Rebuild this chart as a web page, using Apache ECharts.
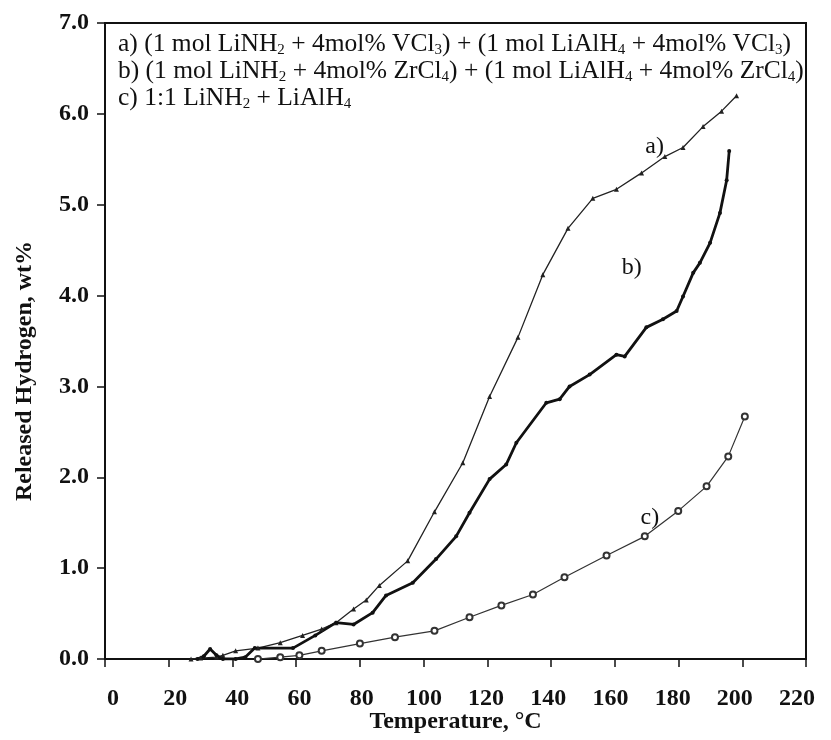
<!DOCTYPE html>
<html>
<head>
<meta charset="utf-8">
<script src="https://cdn.jsdelivr.net/npm/echarts@6/dist/echarts.min.js"></script>
<style>
html,body{margin:0;padding:0;background:#fff;}
#chart{width:831px;height:740px;}
</style>
</head>
<body>
<div id="chart"></div>
<script>
// ---- data ----
const xTicks = [0, 20, 40, 60, 80, 100, 120, 140, 160, 180, 200, 220];
const yTickLabels = ['0.0', '1.0', '2.0', '3.0', '4.0', '5.0', '6.0', '7.0'];

// a) LiNH2 + LiAlH4 with 4mol% VCl3
const aTemp = [27, 30, 35, 37, 41, 48, 55, 62, 68, 72.5, 78, 82, 86.1, 95.0, 103.4, 112.3, 120.7, 129.6, 137.4, 145.3, 153.1, 160.5, 168.4, 175.7, 181.4, 187.7, 193.5, 198.2];
const aH2   = [0, 0.01, 0.02, 0.04, 0.09, 0.12, 0.18, 0.26, 0.33, 0.40, 0.55, 0.65, 0.81, 1.08, 1.62, 2.16, 2.89, 3.54, 4.23, 4.74, 5.07, 5.17, 5.35, 5.53, 5.63, 5.86, 6.03, 6.20];

// b) LiNH2 + LiAlH4 with 4mol% ZrCl4
const bTemp = [29, 31, 33, 35, 37, 41, 44, 47, 59, 66, 72.5, 78, 84, 88.2, 96.6, 103.9, 110.2, 114.4, 120.7, 125.9, 129.1, 138.5, 142.7, 145.8, 152.1, 160.5, 163.1, 169.9, 175.1, 179.4, 181.4, 184.6, 186.7, 189.9, 193.0, 195.1, 195.9];
const bH2   = [0, 0.03, 0.11, 0.04, 0, 0, 0.02, 0.12, 0.12, 0.26, 0.40, 0.38, 0.51, 0.70, 0.84, 1.10, 1.35, 1.61, 1.98, 2.14, 2.38, 2.82, 2.86, 3.00, 3.13, 3.35, 3.33, 3.65, 3.74, 3.83, 3.99, 4.25, 4.36, 4.58, 4.91, 5.27, 5.59];

// c) 1:1 LiNH2 + LiAlH4
const cTemp = [48, 55, 61, 68, 80, 91, 103.4, 114.4, 124.4, 134.3, 144.2, 157.4, 169.4, 179.9, 188.8, 195.6, 200.8];
const cH2   = [0, 0.02, 0.04, 0.09, 0.17, 0.24, 0.31, 0.46, 0.59, 0.71, 0.90, 1.14, 1.35, 1.63, 1.90, 2.23, 2.67];

const curveLabels = [
  {text: 'a)', t: 172.5, h: 5.64},
  {text: 'b)', t: 165.3, h: 4.31},
  {text: 'c)', t: 171.0, h: 1.56}
];

// ---- chart ----
const serif = '"Liberation Serif", "Times New Roman", serif';
const zip = (xs, ys) => xs.map((x, i) => [x, ys[i]]);

const chart = echarts.init(document.getElementById('chart'), null, {renderer: 'canvas'});

const sub = {fontFamily: serif, fontSize: 15, fill: '#111', lineHeight: 7, verticalAlign: 'bottom'};

const legendText =
  'a) (1 mol LiNH{s|2} + 4mol% VCl{s|3}) + (1 mol LiAlH{s|4} + 4mol% VCl{s|3})\n' +
  'b) (1 mol LiNH{s|2} + 4mol% ZrCl{s|4}) + (1 mol LiAlH{s|4} + 4mol% ZrCl{s|4})\n' +
  'c) 1:1 LiNH{s|2} + LiAlH{s|4}';

const tickFont = {fontFamily: serif, fontWeight: 'bold', fontSize: 24, color: '#111'};

const option = {
  backgroundColor: '#fff',
  animation: false,
  grid: [
    {left: 105, right: 25, top: 23, bottom: 81, show: true, borderColor: '#111', borderWidth: 2, backgroundColor: 'transparent'},
    {left: 113, right: 34, top: 23, bottom: 81, show: false}
  ],
  xAxis: [
    {
      type: 'value', gridIndex: 0,
      min: xTicks[0], max: xTicks[xTicks.length - 1], interval: xTicks[1] - xTicks[0],
      axisLine: {show: true, lineStyle: {color: '#111', width: 2}},
      axisTick: {show: true, inside: false, length: 8, lineStyle: {color: '#111', width: 1.5}},
      axisLabel: {show: false},
      splitLine: {show: false},
      name: 'Temperature, °C',
      nameLocation: 'middle',
      nameGap: 51,
      nameTextStyle: Object.assign({}, tickFont, {fontSize: 24})
    },
    {
      type: 'value', gridIndex: 1,
      min: xTicks[0], max: xTicks[xTicks.length - 1], interval: xTicks[1] - xTicks[0],
      axisLine: {show: false}, axisTick: {show: false}, splitLine: {show: false},
      axisLabel: Object.assign({show: true, margin: 28, formatter: v => String(v)}, tickFont)
    }
  ],
  yAxis: [
    {
      type: 'value', gridIndex: 0,
      min: 0, max: yTickLabels.length - 1, interval: 1,
      axisLine: {show: true, lineStyle: {color: '#111', width: 2}},
      axisTick: {show: true, inside: false, length: 8, lineStyle: {color: '#111', width: 1.5}},
      axisLabel: Object.assign({margin: 16, formatter: v => yTickLabels[Math.round(v)]}, tickFont),
      splitLine: {show: false},
      name: 'Released Hydrogen, wt%',
      nameLocation: 'middle',
      nameGap: 68,
      nameTextStyle: Object.assign({}, tickFont, {fontSize: 24, padding: [0, 60, 0, 0]})
    },
    {type: 'value', gridIndex: 1, min: 0, max: 7, show: false}
  ],
  series: [
    {
      name: 'a', type: 'line', xAxisIndex: 0, yAxisIndex: 0,
      data: zip(aTemp, aH2),
      symbol: 'triangle', symbolSize: 5, showSymbol: true,
      lineStyle: {color: '#222', width: 1.3},
      itemStyle: {color: '#222'}
    },
    {
      name: 'b', type: 'line', xAxisIndex: 0, yAxisIndex: 0,
      data: zip(bTemp, bH2),
      symbol: 'circle', symbolSize: 4,
      lineStyle: {color: '#111', width: 2.8},
      itemStyle: {color: '#111'}
    },
    {
      name: 'c', type: 'line', xAxisIndex: 0, yAxisIndex: 0,
      data: zip(cTemp, cH2),
      symbol: 'emptyCircle', symbolSize: 6,
      lineStyle: {color: '#333', width: 1.2},
      itemStyle: {color: '#333', borderWidth: 1.2}
    }
  ]
};

chart.setOption(option);

const graphics = [
  {
    type: 'text', left: 118, top: 31, z: 10,
    style: {text: legendText, font: '25.5px ' + serif, fill: '#111', lineHeight: 27,
      rich: {s: sub}}
  }
];
curveLabels.forEach(l => {
  const p = chart.convertToPixel({gridIndex: 0}, [l.t, l.h]);
  graphics.push({
    type: 'text', x: p[0], y: p[1], z: 10,
    style: {text: l.text, font: '24px ' + serif, fill: '#111', align: 'center', verticalAlign: 'middle'}
  });
});
chart.setOption({graphic: graphics});
</script>
</body>
</html>
